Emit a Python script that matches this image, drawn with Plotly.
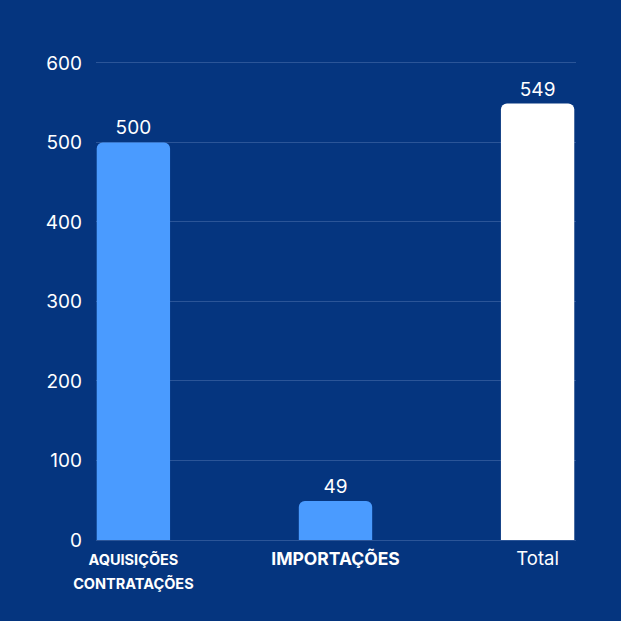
import plotly.graph_objects as go

categories = ["AQUISIÇÕES CONTRATAÇÕES", "IMPORTAÇÕES", "Total"]
tick_labels = [
    "<b><span style='font-size:14.5px'>AQUISIÇÕES<br>CONTRATAÇÕES</span></b>",
    "<b><span style='font-size:17.5px'>IMPORTAÇÕES</span></b>",
    "Total",
]
values = [500, 49, 549]
bar_colors = ["#4A9BFF", "#4A9BFF", "#FFFFFF"]
y_ticks = [0, 100, 200, 300, 400, 500, 600]

BG = "#05357F"
GRID = "#2B5598"

fig = go.Figure(
    go.Bar(
        x=categories,
        y=values,
        marker=dict(color=bar_colors, line=dict(width=0), cornerradius=6),
        width=0.363,
        text=[str(v) for v in values],
        textposition="outside",
        textfont=dict(color="white", size=19, family="Inter"),
        cliponaxis=False,
    )
)

fig.update_layout(
    width=621,
    height=621,
    paper_bgcolor=BG,
    plot_bgcolor=BG,
    margin=dict(l=96, r=45, t=55, b=81),
    font=dict(family="Inter", color="white"),
    showlegend=False,
    xaxis=dict(
        range=[-0.185, 2.19],
        tickmode="array",
        tickvals=categories,
        ticktext=tick_labels,
        tickfont=dict(size=18.5, color="white", family="Inter"),
        showgrid=False,
        showline=False,
        zeroline=False,
        ticks="",
        ticklabelstandoff=5,
    ),
    yaxis=dict(
        range=[0, 610],
        tickvals=y_ticks,
        tickfont=dict(size=19, color="white", family="Inter"),
        showgrid=True,
        gridcolor=GRID,
        gridwidth=1,
        zeroline=True,
        zerolinecolor=GRID,
        zerolinewidth=1,
        showline=False,
        ticks="",
        ticklabelstandoff=13,
    ),
)

fig.write_html("out.html")
